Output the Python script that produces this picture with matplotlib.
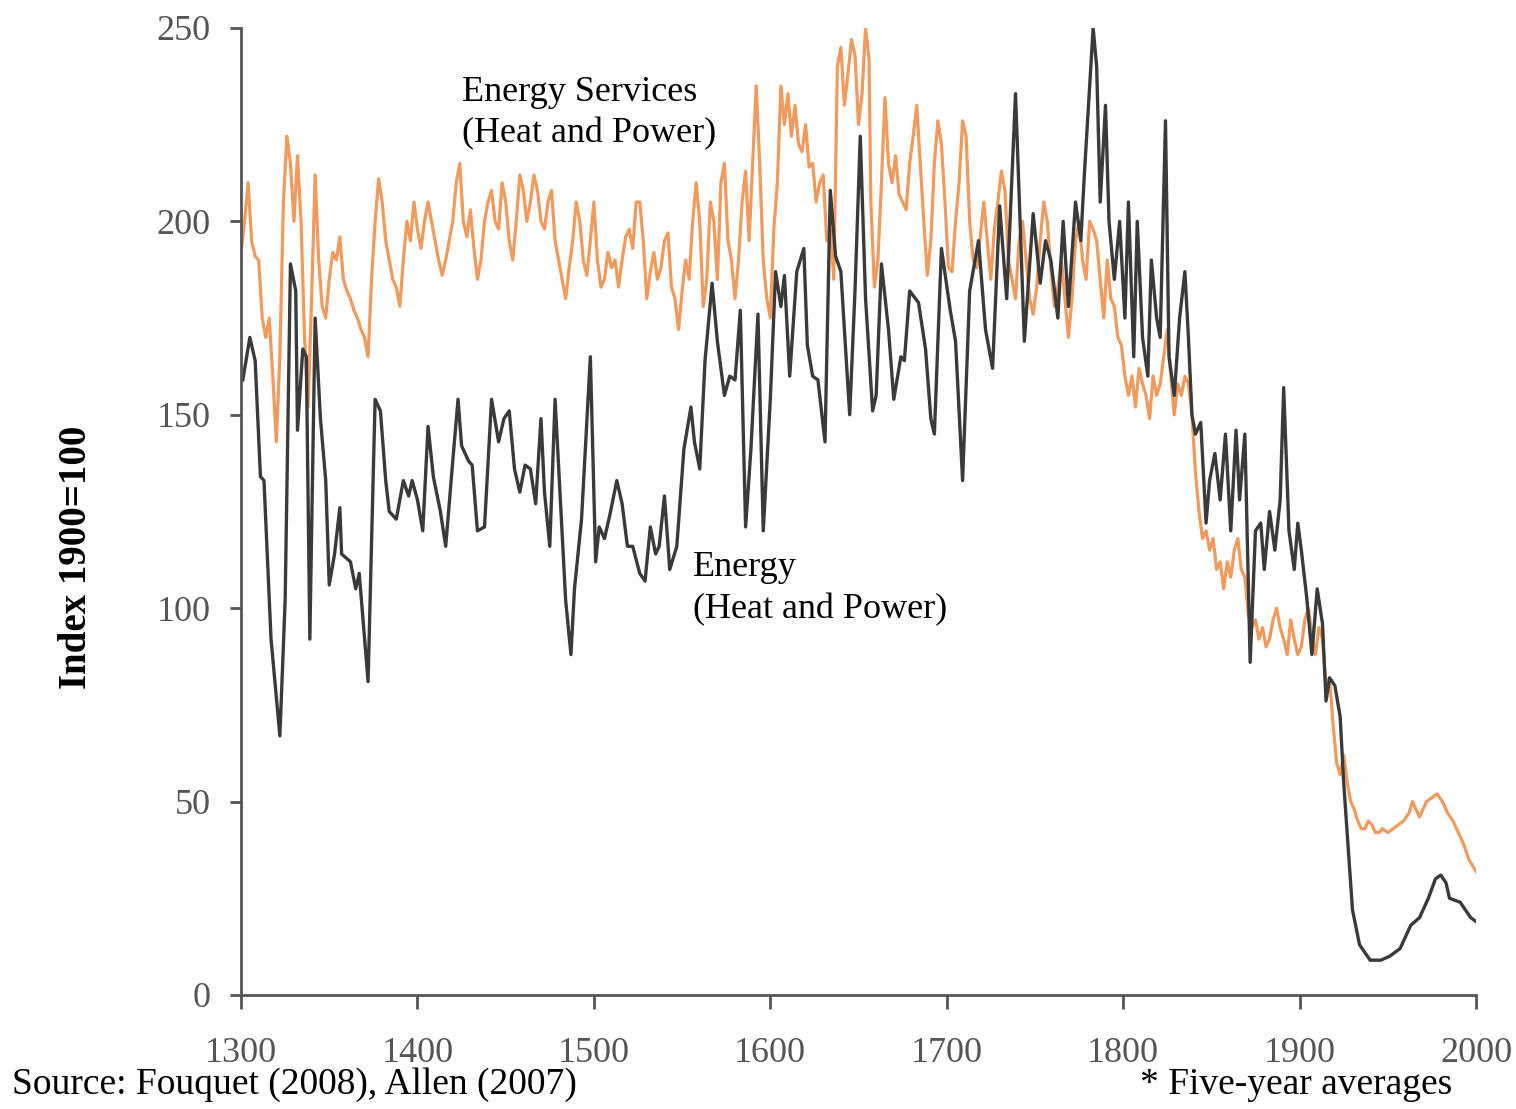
import matplotlib
matplotlib.use("Agg")
import matplotlib.pyplot as plt

plt.rcParams['font.family'] = ['Liberation Serif', 'DejaVu Serif']

# Energy (heat and power), index 1900=100
energy_years = [1301, 1305, 1308, 1311, 1313, 1317, 1322, 1325, 1328, 1331, 1332, 1335, 1337, 1339,
                1342, 1345, 1348, 1350, 1353, 1356, 1357, 1362, 1365, 1367, 1372, 1376, 1379, 1382,
                1384, 1388, 1392, 1395, 1397, 1400, 1403, 1406, 1409, 1413, 1416, 1420, 1423, 1425,
                1429, 1431, 1434, 1438, 1442, 1446, 1449, 1452, 1455, 1458, 1461, 1464, 1467, 1470,
                1472, 1475, 1478, 1481, 1484, 1487, 1489, 1493, 1498, 1501, 1503, 1506, 1509, 1513,
                1516, 1519, 1522, 1526, 1529, 1532, 1535, 1537, 1540, 1543, 1547, 1551, 1555, 1557,
                1560, 1563, 1567, 1570, 1574, 1577, 1580, 1583, 1586, 1589, 1593, 1596, 1600, 1603,
                1606, 1608, 1611, 1615, 1619, 1621, 1624, 1627, 1631, 1634, 1637, 1640, 1642, 1645,
                1648, 1651, 1654, 1658, 1660, 1663, 1667, 1670, 1674, 1676, 1679, 1684, 1688, 1691,
                1693, 1697, 1702, 1705, 1709, 1713, 1718, 1722, 1726, 1730, 1734, 1739, 1744, 1749,
                1753, 1756, 1759, 1763, 1766, 1769, 1773, 1776, 1778, 1783, 1785, 1787, 1790, 1792,
                1795, 1798, 1801, 1803, 1806, 1808, 1811, 1814, 1816, 1819, 1821, 1824, 1826, 1829,
                1832, 1835, 1837, 1839, 1841, 1844, 1847, 1849, 1852, 1855, 1858, 1861, 1864, 1866,
                1869, 1872, 1875, 1878, 1880, 1883, 1886, 1889, 1891, 1894, 1897, 1899, 1901, 1904,
                1907, 1910, 1913, 1915, 1917, 1920, 1923, 1925, 1928, 1930, 1934, 1940, 1946, 1951,
                1957, 1963, 1968, 1973, 1977, 1980, 1983, 1985, 1991, 1997, 2000]
energy_vals = [159, 170, 164, 134, 133, 92, 67, 102, 189, 182, 146, 167, 165, 92,
               175, 149, 133, 106, 114, 126, 114, 112, 105, 109, 81, 154, 151, 133,
               125, 123, 133, 129, 133, 128, 120, 147, 134, 125, 116, 138, 154, 142,
               138, 137, 120, 121, 154, 143, 149, 151, 136, 130, 137, 136, 127, 149,
               130, 116, 154, 128, 102, 88, 105, 123, 165, 112, 121, 118, 124, 133,
               127, 116, 116, 109, 107, 121, 114, 116, 129, 110, 116, 141, 152, 143,
               136, 164, 184, 169, 155, 160, 159, 177, 121, 141, 176, 120, 154, 187,
               178, 186, 160, 187, 193, 168, 160, 159, 143, 208, 191, 187, 172, 150,
               182, 222, 180, 151, 155, 189, 172, 154, 165, 164, 182, 179, 167, 149,
               145, 193, 177, 169, 133, 182, 195, 172, 162, 204, 180, 233, 169, 202,
               184, 195, 190, 175, 200, 178, 205, 195, 212, 250, 240, 205, 230, 200,
               185, 200, 175, 205, 165, 200, 170, 160, 190, 175, 170, 226, 165, 155,
               175, 187, 170, 150, 145, 148, 122, 133, 140, 128, 145, 120, 146, 128,
               145, 86, 120, 122, 110, 125, 115, 128, 157, 120, 110, 122, 115, 103,
               88, 105, 96, 76, 82, 80, 72, 55, 35, 22, 13, 9, 9, 10,
               12, 18, 20, 25, 30, 31, 29, 25, 24, 20, 19]

# Energy services (heat and power)
serv_years = list(range(1300, 1658, 2)) + [1657, 1659, 1661, 1663, 1665, 1667, 1669, 1671, 1673,
             1675, 1677, 1679, 1681, 1683, 1685, 1687, 1689, 1691, 1693, 1695, 1697, 1699, 1701,
             1703, 1705, 1707, 1709, 1711, 1713, 1715, 1717, 1719, 1721, 1723, 1725, 1727, 1729,
             1731, 1733, 1735, 1737, 1739, 1741, 1743, 1745, 1747, 1749, 1751, 1753, 1755, 1757,
             1759, 1761, 1763, 1765, 1767, 1769, 1771, 1773, 1775, 1777, 1779, 1781, 1783, 1785,
             1787, 1789, 1791, 1793, 1795, 1797, 1799, 1801, 1803, 1805, 1807, 1809, 1811, 1813,
             1815, 1817, 1819, 1821, 1823, 1825, 1827, 1829, 1831, 1833, 1835, 1837, 1839, 1841,
             1843, 1845, 1847, 1849, 1851, 1853, 1855, 1857, 1859, 1861, 1863, 1865, 1867, 1869,
             1871, 1873, 1875, 1877, 1879, 1881, 1883, 1885, 1887, 1889, 1891, 1893, 1895, 1897,
             1899, 1901, 1903, 1905, 1907, 1909, 1911, 1913, 1915, 1917, 1919, 1921, 1923, 1925,
             1927, 1929, 1931, 1933, 1935, 1937, 1939, 1941, 1943, 1945, 1947, 1950, 1953, 1956,
             1959, 1962, 1964, 1966, 1968, 1970, 1972, 1975, 1978, 1981, 1984, 1987, 1990, 1993,
             1996, 2000]
serv_vals = [192, 200, 210, 195, 191, 190, 175, 170, 175, 160, 143, 165, 205, 222, 215, 200,
             217, 200, 170, 152, 180, 212, 190, 178, 175, 185, 192, 190, 196, 185, 182, 180,
             177, 175, 172, 170, 165, 185, 200, 211, 205, 195, 190, 185, 183, 178, 190, 200,
             195, 205, 198, 193, 200, 205, 200, 195, 190, 186, 190, 195, 200, 210, 215, 200,
             196, 203, 193, 185, 190, 200, 205, 208, 200, 198, 210, 205, 195, 190, 200, 212,
             208, 200, 205, 212, 208, 200, 198, 205, 208, 195, 190, 185, 180, 188, 195, 205,
             200, 190, 186, 195, 205, 190, 183, 185, 192, 188, 190, 183, 190, 196, 198, 193,
             205, 205, 195, 180, 187, 192, 185, 188, 195, 197, 183, 180, 172, 182, 190, 185,
             200, 210, 200, 178, 185, 205, 200, 185, 210, 215, 195, 190, 180, 190, 205, 213,
             195, 215, 235, 215, 190, 180, 175, 198, 210, 235, 225, 233, 222, 230, 220, 218,
             225, 214, 215, 205, 210, 212, 195, 198, 185, 240, 245, 230, 238, 247, 243, 225,
             233, 250, 242,
             205, 183, 190, 210, 232, 215, 210, 217, 207, 205, 203, 215, 222, 230, 215, 200,
             186, 195, 215, 226, 220, 205, 188, 187, 200, 210, 226, 222, 200, 190, 188, 196,
             205, 195, 185, 198, 205, 213, 208, 190, 185, 180, 195, 200, 190, 180, 176, 183,
             195, 205, 200, 188, 178, 183, 190, 180, 170, 180, 195, 200, 190, 185, 200, 198,
             195, 185, 175, 190, 180, 178, 170, 168, 160, 155, 160, 152, 162, 158, 155, 149,
             160, 155, 158, 165, 172, 160, 150, 158, 155, 160, 158, 150, 135, 125, 118, 120,
             115, 118, 110, 112, 105, 112, 108, 115, 118, 110, 108, 98, 95, 97, 92, 95,
             90, 92, 97, 100, 95, 92, 88, 97, 92, 88, 90, 97, 100, 93, 88, 95,
             92, 80, 82, 70, 60, 57, 62, 55, 50, 48, 45, 43, 43, 45, 44, 42,
             42, 43, 42, 43, 44, 45, 47, 50, 48, 46, 48, 50, 51, 52, 50, 47,
             45, 42, 39, 35, 32]

fig = plt.figure(figsize=(15.16, 11.09), dpi=100)
ax = fig.add_axes([0.159, 0.1028, 0.8146, 0.872])

ax.plot(serv_years, serv_vals, color='#F29A5C', lw=2.3)
ax.plot(energy_years, energy_vals, color='#3a3a3a', lw=2.4)

ax.set_xlim(1300, 2000)
ax.set_ylim(0, 250)
ax.set_xticks(range(1300, 2001, 100))
ax.set_yticks(range(0, 251, 50))
for s in ['top', 'right']:
    ax.spines[s].set_visible(False)
for s in ['left', 'bottom']:
    ax.spines[s].set_color('#555555')
    ax.spines[s].set_linewidth(2)
ax.tick_params(axis='x', direction='out', length=10, width=2, color='#555555',
               pad=20, labelsize=26, labelcolor='#555555')
ax.tick_params(axis='y', direction='out', length=8, width=2, color='#555555',
               pad=14, labelsize=26, labelcolor='#555555')

ax.set_ylabel('Index 1900=100', fontsize=28, fontweight='bold')
ax.yaxis.set_label_coords(-0.118, 0.453)

ax.text(1425, 228, 'Energy Services\n(Heat and Power)', fontsize=26, va='center',
        ha='left', linespacing=1.35)
ax.text(1556, 105, 'Energy\n(Heat and Power)', fontsize=26, va='center',
        ha='left', linespacing=1.35)

fig.text(0.008, 0.006, 'Source: Fouquet (2008), Allen (2007)', fontsize=27,
         ha='left', va='bottom')
fig.text(0.752, 0.006, '* Five-year averages', fontsize=27, ha='left', va='bottom')

fig.savefig('out.png', dpi=100)
